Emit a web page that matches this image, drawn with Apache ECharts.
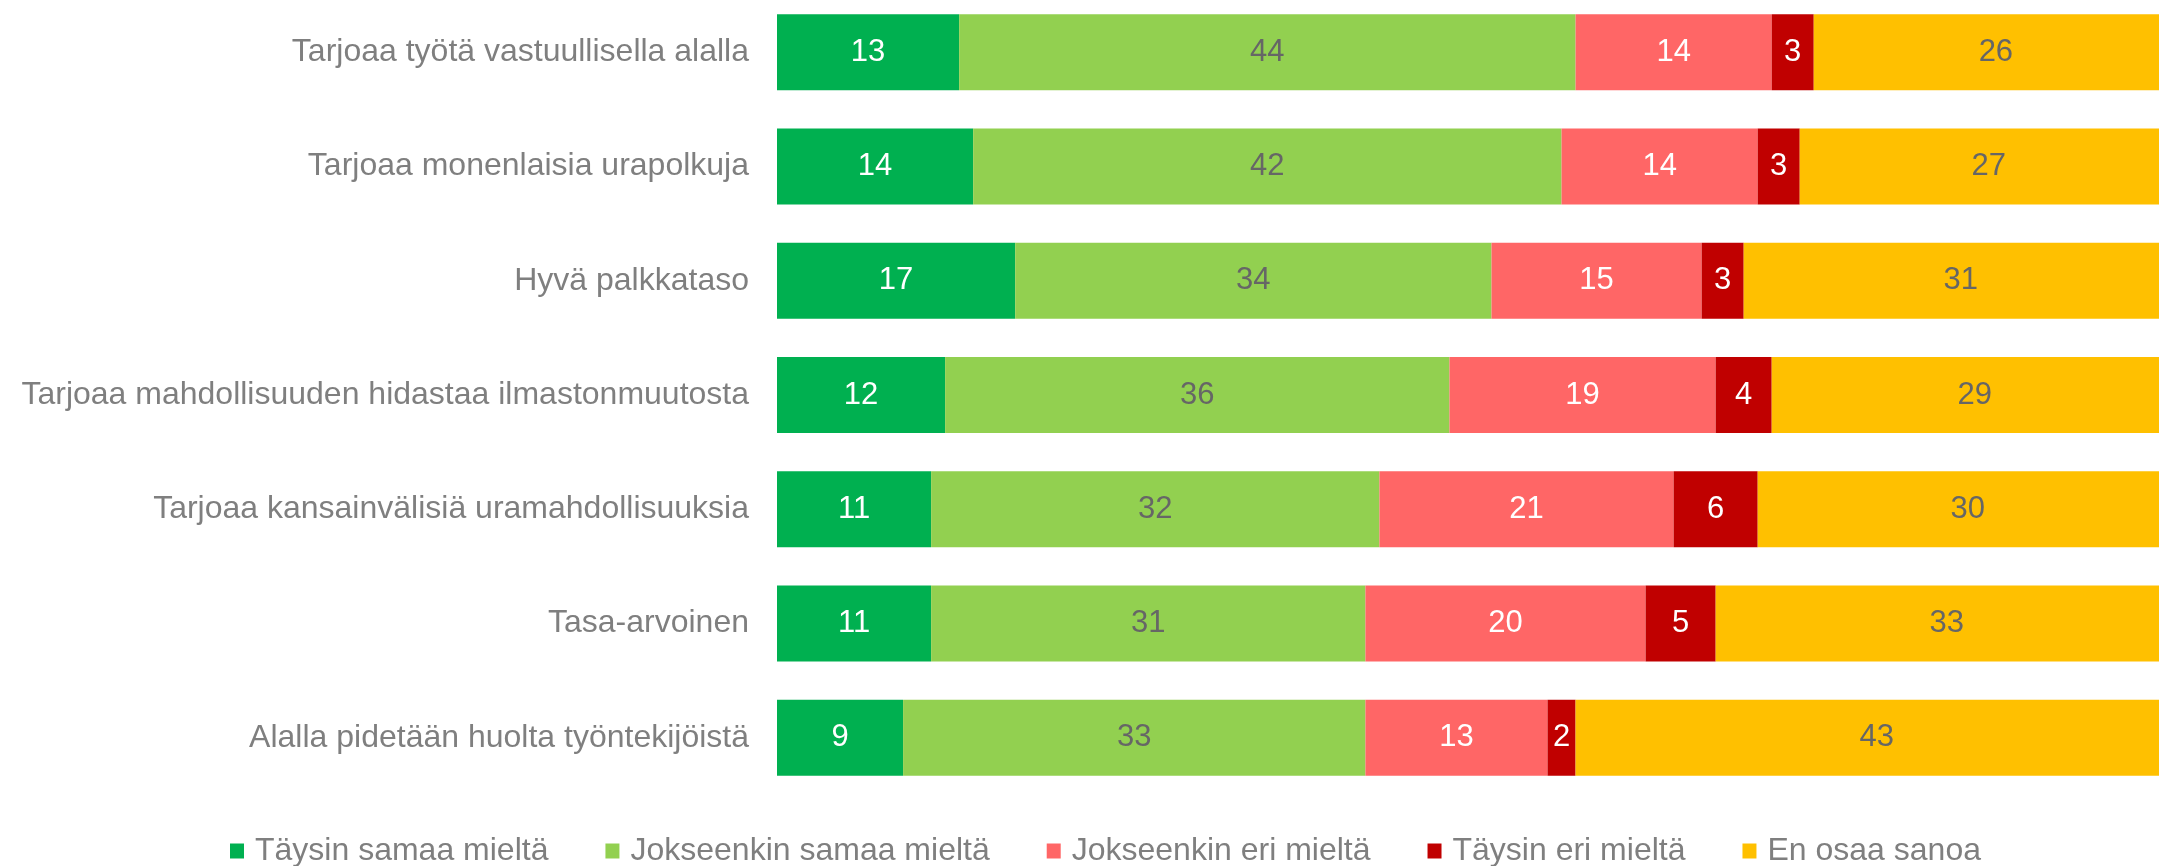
<!DOCTYPE html>
<html>
<head>
<meta charset="utf-8">
<script src="https://cdn.jsdelivr.net/npm/echarts@6/dist/echarts.min.js"></script>
<style>
html,body{margin:0;padding:0;background:#fff;overflow:hidden;width:2159px;height:866px}
#c{position:absolute;left:0;top:-5px;width:2178px;height:871px}
</style>
</head>
<body>
<div id="c"></div>
<script>
const categories = [
  'Tarjoaa työtä vastuullisella alalla',
  'Tarjoaa monenlaisia urapolkuja',
  'Hyvä palkkataso',
  'Tarjoaa mahdollisuuden hidastaa ilmastonmuutosta',
  'Tarjoaa kansainvälisiä uramahdollisuuksia',
  'Tasa-arvoinen',
  'Alalla pidetään huolta työntekijöistä'
];
const seriesNames = ['Täysin samaa mieltä', 'Jokseenkin samaa mieltä', 'Jokseenkin eri mieltä', 'Täysin eri mieltä', 'En osaa sanoa'];
const taysinSamaa = [13, 14, 17, 12, 11, 11, 9];
const jokseenkinSamaa = [44, 42, 34, 36, 32, 31, 33];
const jokseenkinEri = [14, 14, 15, 19, 21, 20, 13];
const taysinEri = [3, 3, 3, 4, 6, 5, 2];
const enOsaa = [26, 27, 31, 29, 30, 33, 43];

const values = [taysinSamaa, jokseenkinSamaa, jokseenkinEri, taysinEri, enOsaa];
const colors = ['#00B050', '#92D050', '#FF6666', '#C00000', '#FFC000'];
const labelColors = ['#ffffff', '#666666', '#ffffff', '#ffffff', '#666666'];
const FONT = '"Liberation Sans", Arial, sans-serif';

const chart = echarts.init(document.getElementById('c'), null, {renderer: 'canvas'});
chart.setOption({
  animation: false,
  textStyle: {fontFamily: FONT},
  grid: {left: 777, right: 0, top: 0, bottom: 71, containLabel: false},
  legend: {
    left: 225, top: 835,
    itemWidth: 14, itemHeight: 15, itemGap: 57,
    icon: 'rect',
    textStyle: {fontFamily: FONT, fontSize: 32, color: '#7F7F7F', padding: [0,0,0,6]},
    data: seriesNames
  },
  xAxis: {type: 'value', min: 0, max: 100, show: false},
  yAxis: {
    type: 'category', data: categories, inverse: true,
    axisLine: {show: false}, axisTick: {show: false},
    axisLabel: {fontFamily: FONT, fontSize: 32, color: '#7F7F7F', margin: 28}
  },
  series: values.map((v, i) => ({
    name: seriesNames[i], type: 'bar', stack: 'total', data: v,
    barWidth: 76,
    itemStyle: {color: colors[i]},
    label: {show: true, position: 'inside', fontFamily: FONT, fontSize: 31, color: labelColors[i]}
  }))
});
</script>
</body>
</html>
